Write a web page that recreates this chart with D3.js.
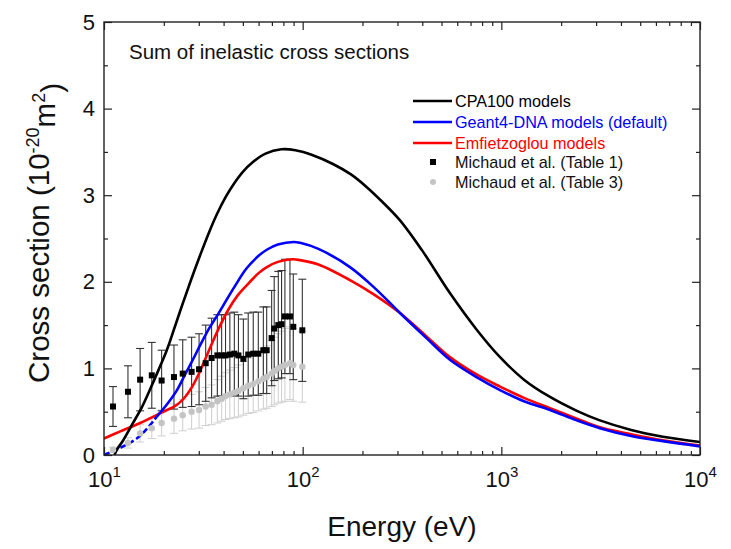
<!DOCTYPE html>
<html>
<head>
<meta charset="utf-8">
<script src="https://cdn.jsdelivr.net/npm/d3@7"></script>
<style>
  html, body { margin: 0; padding: 0; background: #fff; }
  svg { display: block; font-family: "Liberation Sans", Arial, sans-serif; }
</style>
</head>
<body>
<svg id="chart" width="731" height="549"></svg>
<script>
// ---------- data ----------
const xTickValues = [10, 100, 1000, 10000];
const xTickExponents = ["1", "2", "3", "4"];
const yTickValues = [0, 1, 2, 3, 4, 5];
const yMinorValues = [0.5, 1.5, 2.5, 3.5, 4.5];

const cpaE = [11.3, 11.6, 12.5, 14, 15.5, 17, 18.8, 20.7, 22.8, 25, 27.5, 30.4, 33.5, 37, 41, 45, 50, 56, 65, 78, 92, 110, 142, 175, 211, 250, 309, 400, 551, 750, 985, 1300, 1758, 2400, 3133, 4500, 6500, 10000];
const cpaV = [0, 0.06, 0.17, 0.37, 0.55, 0.75, 0.98, 1.21, 1.49, 1.76, 2.03, 2.30, 2.55, 2.78, 2.98, 3.13, 3.27, 3.38, 3.48, 3.53, 3.52, 3.47, 3.36, 3.24, 3.09, 2.93, 2.71, 2.36, 1.87, 1.45, 1.13, 0.87, 0.67, 0.51, 0.40, 0.29, 0.21, 0.15];

const g4E = [10, 12, 15, 18.4, 21, 23.3, 25.6, 28, 31, 34, 37.6, 41.6, 45.6, 52, 60, 66, 75, 90, 97, 120, 173, 230, 309, 420, 551, 750, 985, 1300, 1758, 2400, 3133, 4500, 6500, 10000];
const g4V = [0, 0.08, 0.21, 0.44, 0.60, 0.75, 0.93, 1.10, 1.30, 1.47, 1.63, 1.80, 1.95, 2.15, 2.30, 2.37, 2.43, 2.46, 2.45, 2.38, 2.17, 1.93, 1.64, 1.35, 1.10, 0.90, 0.75, 0.62, 0.52, 0.40, 0.31, 0.22, 0.16, 0.10];
const g4DashEnd = 18.4;

const emE = [10, 12, 15.2, 19.1, 23.3, 25.6, 27.8, 29.9, 33.5, 37.6, 42.3, 47, 52.3, 60, 66, 75, 89, 97, 120, 173, 230, 309, 420, 551, 750, 985, 1300, 1758, 2400, 3133, 4500, 6500, 10000];
const emV = [0.19, 0.27, 0.37, 0.48, 0.58, 0.67, 0.79, 0.93, 1.19, 1.45, 1.68, 1.84, 1.96, 2.10, 2.17, 2.23, 2.26, 2.25, 2.20, 2.02, 1.85, 1.64, 1.37, 1.13, 0.93, 0.79, 0.66, 0.54, 0.42, 0.32, 0.24, 0.17, 0.11];

const michE = [11.1, 13.2, 15.2, 17.4, 19.5, 22.5, 24.9, 27.6, 30.1, 32.5, 34.8, 37.2, 39.1, 40.9, 43.0, 45.3, 47.5, 50.3, 53.2, 56.4, 59.8, 63.4, 65.9, 69.8, 71.9, 75.4, 78.3, 81.4, 86.3, 89.7, 99.6];
const tab1V = [0.56, 0.73, 0.87, 0.92, 0.86, 0.90, 0.94, 0.96, 0.99, 1.06, 1.12, 1.15, 1.15, 1.15, 1.16, 1.17, 1.15, 1.11, 1.16, 1.17, 1.17, 1.21, 1.21, 1.35, 1.46, 1.50, 1.51, 1.60, 1.60, 1.48, 1.44];
const tab1Err = [0.23, 0.30, 0.36, 0.38, 0.35, 0.37, 0.39, 0.40, 0.41, 0.44, 0.46, 0.47, 0.47, 0.47, 0.48, 0.48, 0.47, 0.46, 0.48, 0.48, 0.48, 0.50, 0.50, 0.55, 0.60, 0.62, 0.62, 0.66, 0.66, 0.61, 0.59];
const tab3V = [0.06, 0.14, 0.25, 0.31, 0.37, 0.42, 0.46, 0.50, 0.52, 0.56, 0.58, 0.62, 0.65, 0.68, 0.70, 0.72, 0.74, 0.77, 0.80, 0.82, 0.85, 0.88, 0.90, 0.94, 0.97, 1.00, 1.02, 1.04, 1.06, 1.04, 1.02];
const tab3Err = [0.03, 0.06, 0.10, 0.12, 0.15, 0.17, 0.18, 0.20, 0.21, 0.22, 0.23, 0.25, 0.26, 0.27, 0.28, 0.29, 0.30, 0.31, 0.32, 0.33, 0.34, 0.35, 0.36, 0.38, 0.39, 0.40, 0.41, 0.42, 0.42, 0.42, 0.41];

const legendLabels = ["CPA100 models", "Geant4-DNA models (default)", "Emfietzoglou models", "Michaud et al. (Table 1)", "Michaud et al. (Table 3)"];

// ---------- layout ----------
const svg = d3.select("#chart");
const L = 104, R = 700, T = 22, B = 455;
const x = d3.scaleLog().domain([10, 10000]).range([L, R]);
const y = d3.scaleLinear().domain([0, 5]).range([B, T]);

const BLUE = "#0000ff", RED = "#ff0000", GRAY = "#c4c4c4", GRAYBAR = "#d2d2d2";
const FONT = "Liberation Sans, Arial, sans-serif";

// minor x ticks
const xMinor = [];
[10, 100, 1000].forEach(d => { for (let k = 2; k <= 9; k++) xMinor.push(d * k); });

function styleAxis(g) {
  g.select(".domain").remove();
  g.selectAll("line").attr("stroke", "#222").attr("stroke-width", 1.2);
}

// bottom
svg.append("g").attr("transform", `translate(0,${B})`)
  .call(d3.axisBottom(x).tickValues(xMinor).tickSize(-4).tickFormat(""))
  .call(styleAxis);
const xb = svg.append("g").attr("transform", `translate(0,${B})`)
  .call(d3.axisBottom(x).tickValues(xTickValues).tickSize(-8).tickPadding(16).tickFormat(""))
  .call(styleAxis);
xb.selectAll(".tick text").each(function(d, i) {
  const t = d3.select(this);
  t.attr("font-size", 22).attr("fill", "#111").attr("font-family", FONT);
  t.append("tspan").text("10");
  t.append("tspan").attr("dy", "-0.62em").attr("font-size", 15).text(xTickExponents[i]);
});
// top
svg.append("g").attr("transform", `translate(0,${T})`)
  .call(d3.axisTop(x).tickValues(xMinor).tickSize(-4).tickFormat(""))
  .call(styleAxis);
svg.append("g").attr("transform", `translate(0,${T})`)
  .call(d3.axisTop(x).tickValues(xTickValues).tickSize(-8).tickFormat(""))
  .call(styleAxis);
// left
svg.append("g").attr("transform", `translate(${L},0)`)
  .call(d3.axisLeft(y).tickValues(yMinorValues).tickSize(-4).tickFormat(""))
  .call(styleAxis);
svg.append("g").attr("transform", `translate(${L},0)`)
  .call(d3.axisLeft(y).tickValues(yTickValues).tickSize(-8).tickPadding(9).tickFormat(d3.format("d")))
  .call(styleAxis)
  .call(g => g.selectAll("text").attr("font-size", 22).attr("fill", "#111").attr("font-family", FONT));
// right
svg.append("g").attr("transform", `translate(${R},0)`)
  .call(d3.axisRight(y).tickValues(yMinorValues).tickSize(-4).tickFormat(""))
  .call(styleAxis);
svg.append("g").attr("transform", `translate(${R},0)`)
  .call(d3.axisRight(y).tickValues(yTickValues).tickSize(-8).tickFormat(""))
  .call(styleAxis);

// ---------- error bars ----------
const cap = 4;
function errorBars(vals, errs, color) {
  const g = svg.append("g").attr("stroke", color).attr("stroke-width", 1.1).attr("fill", "none");
  michE.forEach((e, i) => {
    const cx = x(e), y1 = y(vals[i] + errs[i]), y2 = y(Math.max(0, vals[i] - errs[i]));
    g.append("line").attr("x1", cx).attr("x2", cx).attr("y1", y1).attr("y2", y2);
    g.append("line").attr("x1", cx - cap).attr("x2", cx + cap).attr("y1", y1).attr("y2", y1);
    g.append("line").attr("x1", cx - cap).attr("x2", cx + cap).attr("y1", y2).attr("y2", y2);
  });
}
errorBars(tab3V, tab3Err, GRAYBAR);
errorBars(tab1V, tab1Err, "#333");

// ---------- curves ----------
const line = d3.line().x(d => x(d[0])).y(d => y(d[1])).curve(d3.curveCatmullRom.alpha(0.5));
const zip = (a, b) => a.map((v, i) => [v, b[i]]);
svg.append("clipPath").attr("id", "plotclip").append("rect")
  .attr("x", L).attr("y", T).attr("width", R - L).attr("height", B - T);
const curves = svg.append("g").attr("clip-path", "url(#plotclip)").attr("fill", "none").attr("stroke-width", 2.6);

const emData = zip(emE, emV);
curves.append("path").attr("d", line(emData)).attr("stroke", RED);
const g4Data = zip(g4E, g4V);
curves.append("path").attr("d", line(g4Data.filter(d => d[0] <= g4DashEnd))).attr("stroke", BLUE).attr("stroke-dasharray", "6,3");
curves.append("path").attr("d", line(g4Data.filter(d => d[0] >= g4DashEnd))).attr("stroke", BLUE);
curves.append("path").attr("d", line(zip(cpaE, cpaV))).attr("stroke", "#000");

// ---------- points ----------
svg.append("g").selectAll("circle").data(zip(michE, tab3V)).join("circle")
  .attr("cx", d => x(d[0])).attr("cy", d => y(d[1])).attr("r", 3.2).attr("fill", GRAY);
svg.append("g").selectAll("rect").data(zip(michE, tab1V)).join("rect")
  .attr("x", d => x(d[0]) - 3).attr("y", d => y(d[1]) - 3).attr("width", 6).attr("height", 6).attr("fill", "#000");

// ---------- frame ----------
svg.append("rect").attr("x", L).attr("y", T).attr("width", R - L).attr("height", B - T)
  .attr("fill", "none").attr("stroke", "#222").attr("stroke-width", 1.4);

// ---------- texts ----------
svg.append("text").attr("x", 129).attr("y", 59).attr("font-size", 20.5).attr("fill", "#111")
  .text("Sum of inelastic cross sections");

svg.append("text").attr("x", (L + R) / 2).attr("y", 536).attr("text-anchor", "middle")
  .attr("font-size", 28).attr("fill", "#111").text("Energy (eV)");

const yl = svg.append("text").attr("transform", `translate(49,233) rotate(-90)`)
  .attr("text-anchor", "middle").attr("font-size", 29.5).attr("fill", "#111");
yl.append("tspan").text("Cross section (10");
yl.append("tspan").attr("dy", "-0.55em").attr("font-size", 18).text("-20");
yl.append("tspan").attr("dy", "0.55em").text("m");
yl.append("tspan").attr("dy", "-0.55em").attr("font-size", 18).text("2");
yl.append("tspan").attr("dy", "0.55em").text(")");

// ---------- legend ----------
const legendColors = ["#000", BLUE, RED, "#111", "#111"];
const legY = [101, 122, 143, 162, 182];
const leg = svg.append("g").attr("font-size", 16.2);
legendLabels.forEach((lab, i) => {
  const yy = legY[i];
  if (i < 3) {
    leg.append("line").attr("x1", 413).attr("x2", 452).attr("y1", yy).attr("y2", yy)
      .attr("stroke", legendColors[i]).attr("stroke-width", 2.6);
  } else if (i === 3) {
    leg.append("rect").attr("x", 430).attr("y", yy - 3).attr("width", 6).attr("height", 6).attr("fill", "#000");
  } else {
    leg.append("circle").attr("cx", 433).attr("cy", yy).attr("r", 3).attr("fill", GRAY);
  }
  leg.append("text").attr("x", 455).attr("y", yy).attr("dy", "0.35em")
    .attr("fill", i < 3 ? legendColors[i] : "#111").text(lab);
});
</script>
</body>
</html>
